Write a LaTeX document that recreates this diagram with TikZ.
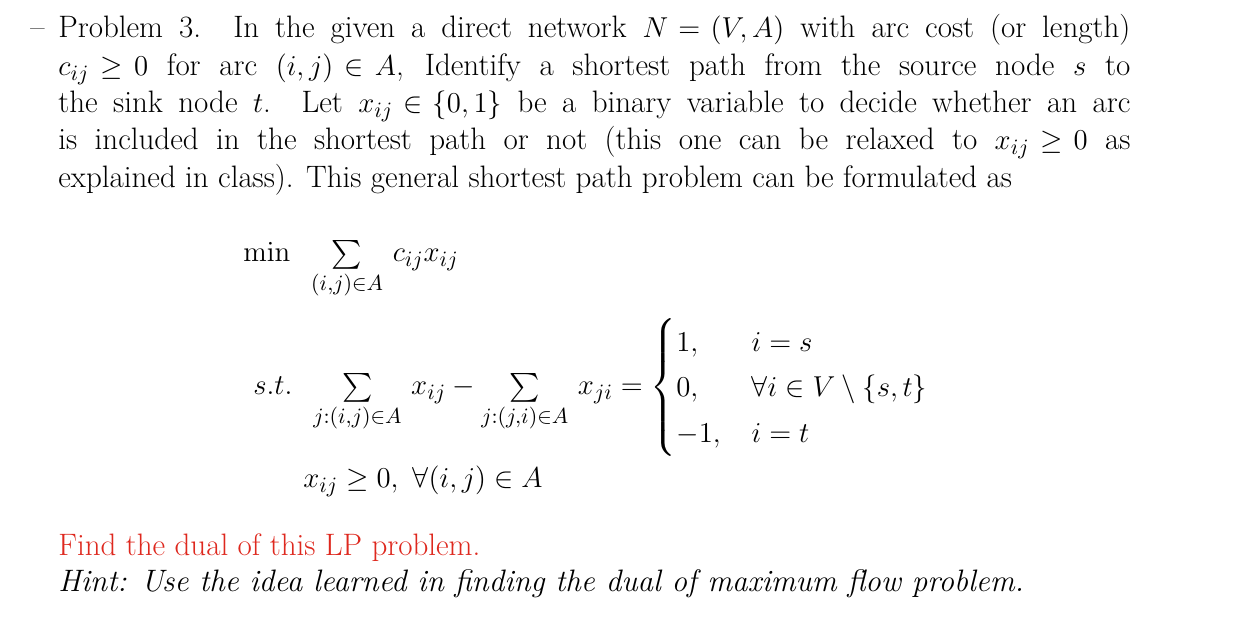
\documentclass[tikz,border=0pt]{standalone}
\usepackage{amsmath}
\definecolor{probred}{RGB}{222,40,30}
\begin{document}
\begin{tikzpicture}[x=0.5pt,y=-0.5pt,
  txt/.style={anchor=base west,inner sep=0pt,font=\fontsize{15.5}{19}\selectfont},
  jl/.style={txt}]
\useasboundingbox (0,0) rectangle (1244,630);
\thickmuskip=5mu plus 1mu\medmuskip=4mu plus 1mu
\node[txt] (dash) at (30,38) {\textendash};
\node[jl] (l1) at (58,38) {\hbox to 536pt{Problem 3. In the given a direct network $N=(V,A)$ with arc cost (or length)}};
\node[jl] (l2) at (58,76) {\hbox to 536pt{$c_{ij}\geq 0$ for arc $(i,j)\in A$, Identify a shortest path from the source node $s$ to}};
\node[jl] (l3) at (58,113) {\hbox to 536pt{the sink node $t$. Let $x_{ij}\in\{0,1\}$ be a binary variable to decide whether an arc}};
\node[jl] (l4) at (58,150) {\hbox to 536pt{is included in the shortest path or not (this one can be relaxed to $x_{ij}\geq 0$ as}};
\node[txt] (l5) at (58,188) {explained in class). This general shortest path problem can be formulated as};
\node[txt] (obj) at (243,262) {$\textstyle \min\;\; \sum\limits_{(i,j)\in A}\, c_{ij}x_{ij}$};
\node[txt] (con) at (253,395) {$\textstyle s.t.\;\; \sum\limits_{j:(i,j)\in A}\, x_{ij} - \sum\limits_{j:(j,i)\in A}\, x_{ji} = \begin{cases}1, & i=s\\ 0, & \forall i\in V\setminus\{s,t\}\\ -1, & i=t\end{cases}$};
\node[txt] (nn) at (303,488) {$x_{ij}\geq 0,\ \forall (i,j)\in A$};
\node[txt,text=probred] (red) at (58,556) {Find the dual of this LP problem.};
\node[txt] (hint) at (58,592) {\itshape Hint: Use the idea learned in finding the dual of maximum flow problem.};
\end{tikzpicture}
\end{document}
